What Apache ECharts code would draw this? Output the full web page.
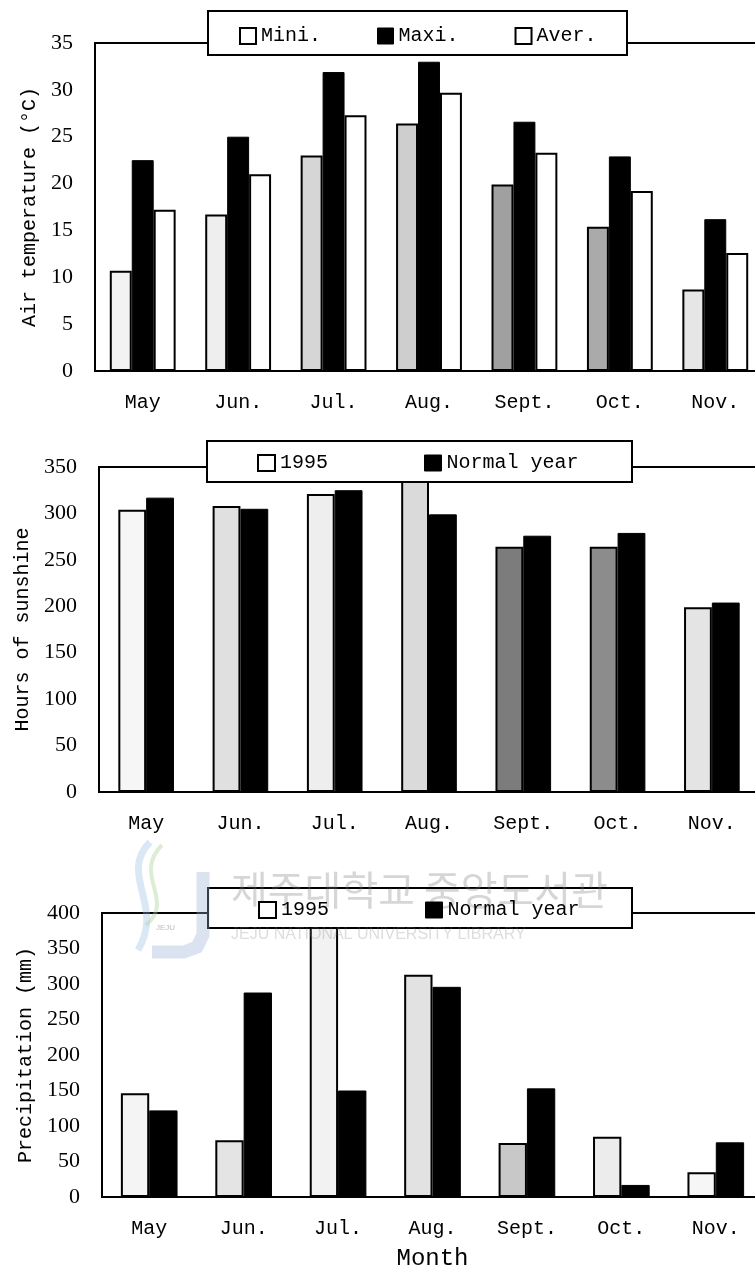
<!DOCTYPE html>
<html>
<head>
<meta charset="utf-8">
<script src="https://cdn.jsdelivr.net/npm/echarts@6/dist/echarts.min.js"></script>
<style>
html,body{margin:0;padding:0;background:#fff;}
#chart{width:755px;height:1280px;}
</style>
</head>
<body>
<div id="chart"></div>
<script>
// ---- data ----
const months = ['May', 'Jun.', 'Jul.', 'Aug.', 'Sept.', 'Oct.', 'Nov.'];
const tempMini = [10.7, 16.7, 23.0, 26.4, 19.9, 15.4, 8.7];
const tempMaxi = [22.5, 25.0, 31.9, 33.0, 26.6, 22.9, 16.2];
const tempAver = [17.2, 21.0, 27.3, 29.7, 23.3, 19.2, 12.6];
const sun1995 = [304, 308, 321, 345, 264, 264, 199];
const sunNormal = [317, 305, 325, 299, 276, 279, 204];
const rain1995 = [146, 80, 395, 313, 76, 85, 35];
const rainNormal = [122, 288, 150, 296, 153, 17, 77];
const tempAxis = {min: 0, max: 35, interval: 5};
const sunAxis = {min: 0, max: 350, interval: 50};
const rainAxis = {min: 0, max: 400, interval: 50};

// ---- styles (stipple tones of the scanned light bars) ----
const tempMiniTone = ['#f2f2f2', '#eeeeee', '#d6d6d6', '#cecece', '#a0a0a0', '#aaaaaa', '#e6e6e6'];
const sun1995Tone = ['#f6f6f6', '#e0e0e0', '#eeeeee', '#dadada', '#7c7c7c', '#8c8c8c', '#e4e4e4'];
const rain1995Tone = ['#f4f4f4', '#e4e4e4', '#f2f2f2', '#e2e2e2', '#c8c8c8', '#ececec', '#f6f6f6'];

const MONO = '"Liberation Mono", monospace';
const SERIF = '"Liberation Serif", serif';

function toned(values, tones) {
  return values.map((v, i) => ({value: v, itemStyle: {color: tones[i]}}));
}

const lightBar = {color: '#f4f4f4', borderColor: '#000', borderWidth: 2};
const blackBar = {color: '#000', borderColor: '#000', borderWidth: 1};
const whiteBar = {color: '#fff', borderColor: '#000', borderWidth: 2};

function xAxisFor(gi, withName) {
  const ax = {
    type: 'category', gridIndex: gi, data: months,
    axisTick: {show: false},
    axisLine: {lineStyle: {color: '#000', width: 2}},
    axisLabel: {color: '#000', fontFamily: MONO, fontSize: 20, margin: 22}
  };
  if (withName) {
    ax.name = 'Month';
    ax.nameLocation = 'middle';
    ax.nameGap = 50;
    ax.nameTextStyle = {color: '#000', fontFamily: MONO, fontSize: 24};
  }
  return ax;
}
function yAxisFor(gi, range, name, gap) {
  return {
    type: 'value', gridIndex: gi, min: range.min, max: range.max, interval: range.interval,
    name: name, nameLocation: 'middle', nameGap: gap,
    nameTextStyle: {color: '#000', fontFamily: MONO, fontSize: 20},
    splitLine: {show: false},
    axisTick: {show: false},
    axisLine: {show: true, lineStyle: {color: '#000', width: 2}},
    axisLabel: {color: '#000', fontFamily: SERIF, fontSize: 22, margin: 22}
  };
}

const legendText = {color: '#000', fontFamily: MONO, fontSize: 20};
const iconWhite = {color: '#fff', borderColor: '#000', borderWidth: 2};
const iconBlack = {color: '#000', borderColor: '#000', borderWidth: 1};
const legendBase = {z: 200, padding: 0, itemHeight: 16, icon: 'rect', selectedMode: false, textStyle: legendText};
const gridBase = {show: true, borderColor: '#000', borderWidth: 2, backgroundColor: 'transparent', containLabel: false, outerBoundsMode: 'none'};

const option = {
  backgroundColor: '#fff',
  animation: false,
  grid: [
    Object.assign({}, gridBase, {left: 95, width: 668, top: 43, height: 328}),
    Object.assign({}, gridBase, {left: 99, width: 660, top: 467, height: 325}),
    Object.assign({}, gridBase, {left: 102, width: 661, top: 913, height: 284})
  ],
  xAxis: [xAxisFor(0, false), xAxisFor(1, false), xAxisFor(2, true)],
  yAxis: [
    yAxisFor(0, tempAxis, 'Air temperature (°C)', 50),
    yAxisFor(1, sunAxis, 'Hours of sunshine', 66),
    yAxisFor(2, rainAxis, 'Precipitation (mm)', 64)
  ],
  legend: [
    Object.assign({}, legendBase, {left: 239, top: 26, itemWidth: 16, itemGap: 56,
     data: [{name: 'Mini.', itemStyle: iconWhite}, {name: 'Maxi.', itemStyle: iconBlack}, {name: 'Aver.', itemStyle: iconWhite}]}),
    Object.assign({}, legendBase, {left: 257, top: 453, itemWidth: 17, itemGap: 96,
     data: [{name: '1995', itemStyle: iconWhite}, {name: 'Normal year', itemStyle: iconBlack}]}),
    Object.assign({}, legendBase, {left: 258, top: 900, itemWidth: 17, itemGap: 96,
     data: [{name: '1995', itemStyle: iconWhite}, {name: 'Normal year', itemStyle: iconBlack}]})
  ],
  graphic: [
    {type: 'rect', z: 100, shape: {x: 208, y: 11, width: 419, height: 44}, style: {fill: '#fff', stroke: '#000', lineWidth: 2}},
    {type: 'rect', z: 100, shape: {x: 207, y: 441, width: 425, height: 41}, style: {fill: '#fff', stroke: '#000', lineWidth: 2}},
    {type: 'rect', z: 100, shape: {x: 208, y: 888, width: 424, height: 40}, style: {fill: '#fff', stroke: '#000', lineWidth: 2}},
    // library watermark
    {type: 'bezierCurve', z: 150, shape: {x1: 150, y1: 842, cpx1: 118, cpy1: 875, cpx2: 165, cpy2: 905, x2: 138, y2: 950},
     style: {fill: 'none', stroke: 'rgba(150,190,230,0.35)', lineWidth: 7}},
    {type: 'bezierCurve', z: 150, shape: {x1: 162, y1: 845, cpx1: 132, cpy1: 875, cpx2: 176, cpy2: 900, x2: 146, y2: 925},
     style: {fill: 'none', stroke: 'rgba(170,210,150,0.4)', lineWidth: 4}},
    {type: 'polyline', z: 150, shape: {points: [[203, 872], [203, 935], [197, 947], [184, 952], [152, 952]]},
     style: {fill: 'none', stroke: 'rgba(150,175,210,0.35)', lineWidth: 13}},
    {type: 'text', z: 150, x: 156, y: 924, style: {text: 'JEJU', fill: 'rgba(120,120,120,0.5)', font: '8px "Liberation Sans"'}},
    {type: 'text', z: 150, x: 231, y: 870, style: {text: '제주대학교 중앙도서관', fill: 'rgba(120,120,120,0.3)', font: '40px "Noto Sans CJK KR"'}},
    {type: 'text', z: 150, x: 231, y: 927, style: {text: 'JEJU NATIONAL UNIVERSITY LIBRARY', fill: 'rgba(120,120,120,0.25)', font: '16px "Liberation Sans"'}}
  ],
  series: [
    {name: 'Mini.', type: 'bar', xAxisIndex: 0, yAxisIndex: 0, barGap: '0%', barCategoryGap: '31%', itemStyle: lightBar, data: toned(tempMini, tempMiniTone)},
    {name: 'Maxi.', type: 'bar', xAxisIndex: 0, yAxisIndex: 0, barGap: '0%', barCategoryGap: '31%', itemStyle: blackBar, data: tempMaxi},
    {name: 'Aver.', type: 'bar', xAxisIndex: 0, yAxisIndex: 0, barGap: '0%', barCategoryGap: '31%', itemStyle: whiteBar, data: tempAver},
    {name: '1995', type: 'bar', xAxisIndex: 1, yAxisIndex: 1, barGap: '0%', barCategoryGap: '41%', clip: true, itemStyle: lightBar, data: toned(sun1995, sun1995Tone)},
    {name: 'Normal year', type: 'bar', xAxisIndex: 1, yAxisIndex: 1, barGap: '0%', barCategoryGap: '41%', itemStyle: blackBar, data: sunNormal},
    {name: '1995', type: 'bar', xAxisIndex: 2, yAxisIndex: 2, barGap: '0%', barCategoryGap: '40%', clip: true, itemStyle: lightBar, data: toned(rain1995, rain1995Tone)},
    {name: 'Normal year', type: 'bar', xAxisIndex: 2, yAxisIndex: 2, barGap: '0%', barCategoryGap: '40%', itemStyle: blackBar, data: rainNormal}
  ]
};

const chart = echarts.init(document.getElementById('chart'), null, {renderer: 'canvas'});
chart.setOption(option);
</script>
</body>
</html>
